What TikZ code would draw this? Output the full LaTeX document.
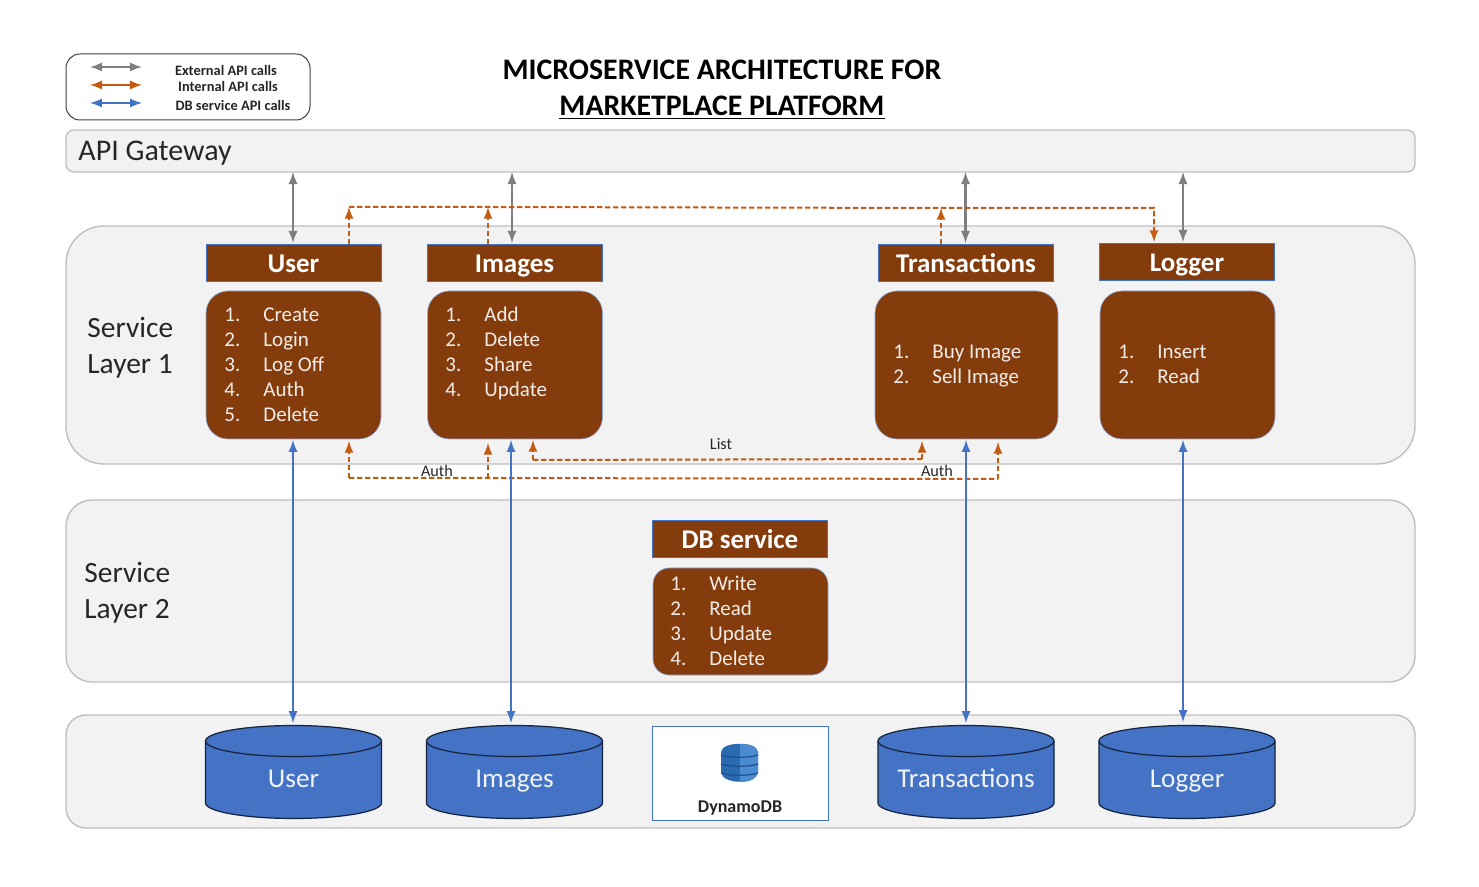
\documentclass[tikz,border=0pt]{standalone}
\usepackage{fontspec}
\setmainfont{Carlito}
\usetikzlibrary{arrows}
\definecolor{brownbox}{HTML}{843C0C}
\definecolor{layerfill}{HTML}{F2F2F2}
\definecolor{layerline}{HTML}{BFBFBF}
\definecolor{dbblue}{HTML}{4472C4}
\definecolor{intorange}{HTML}{C55A11}
\definecolor{extgray}{HTML}{7F7F7F}
\definecolor{dynleft}{HTML}{2A6BB0}
\definecolor{dynright}{HTML}{4A8CCF}
\definecolor{dyngap}{HTML}{1E4E8C}
\newcommand{\itm}[2]{\makebox[19.5pt][l]{#1}#2}

\begin{document}
\begin{tikzpicture}[x=.5pt,y=-.5pt]
\tikzstyle{layer} = [draw=layerline,fill=layerfill,line width=.7pt,inner sep=0pt,outer sep=0pt]
\tikzstyle{header} = [draw=dbblue,line width=.4pt,fill=brownbox,text=white,font=\fontsize{13.5}{15}\selectfont\bfseries,minimum width=87.5pt,minimum height=18.5pt,text height=10.5pt,text depth=.6pt,inner sep=0pt,outer sep=0pt]
\tikzstyle{svcbox} = [fill=brownbox,draw=dbblue!60,line width=.3pt,rounded corners=11pt,inner sep=0pt,outer sep=0pt]
\tikzstyle{svclist} = [text=white!90!brownbox,font=\fontsize{10.5}{12.5}\selectfont,align=left,anchor=west,inner sep=0pt]
\tikzstyle{store} = [fill=dbblue,draw=black!70!dbblue,line width=.6pt]
\tikzstyle{storetext} = [text=white!92!dbblue,font=\fontsize{13.6}{15}\selectfont,text height=8.5pt,text depth=2.6pt,inner sep=0pt]
\tikzstyle{ext} = [extgray,line width=1.1pt,<->,>=latex]
\tikzstyle{legint} = [intorange,line width=1.1pt,<->,>=latex]
\tikzstyle{int} = [intorange,line width=1pt,dash pattern=on 2.7pt off 1.3pt,->,>=latex]
\tikzstyle{intline} = [intorange,line width=1pt,dash pattern=on 2.7pt off 1.3pt]
\tikzstyle{dbcall} = [dbblue,line width=1.05pt,<->,>=latex]
\tikzstyle{legtext} = [font=\fontsize{7.2}{8}\selectfont\bfseries,text=black!85,inner sep=0pt]
\tikzstyle{small} = [font=\fontsize{8.1}{9}\selectfont,text=black!85,inner sep=0pt]
\tikzstyle{side} = [font=\fontsize{14.7}{18}\selectfont,text=black!85,align=left,anchor=west,inner sep=0pt]
\tikzstyle{titletext} = [font=\fontsize{14.9}{18}\selectfont\bfseries,inner sep=0pt]

\useasboundingbox (0,0) rectangle (1479,887);

% legend and title
\node[draw=black!75,line width=.5pt,rounded corners=7pt,minimum width=122pt,minimum height=33pt,inner sep=0pt] (legend) at (188,87) {};
\coordinate (le1) at (90,67);  \coordinate (le2) at (142,67);
\coordinate (li1) at (90,85);  \coordinate (li2) at (142,85);
\coordinate (ld1) at (90,103); \coordinate (ld2) at (142,103);
\draw[ext] (le1) -- (le2);
\draw[legint] (li1) -- (li2);
\draw[dbcall] (ld1) -- (ld2);
\node[legtext] (ltxt1) at (226,70.5) {External API calls};
\node[legtext] (ltxt2) at (228,87) {Internal API calls};
\node[legtext] (ltxt3) at (233,105.5) {DB service API calls};
\node[titletext] (title1) at (722,70) {MICROSERVICE ARCHITECTURE FOR};
\node[titletext] (title2) at (722,108) {\underline{MARKETPLACE PLATFORM}};

% layers
\draw[layer,rounded corners=4pt] (66,130) rectangle (1415,172);
\node[font=\fontsize{15}{18}\selectfont,text=black!85,anchor=west,inner sep=0pt] (gateway) at (78,153) {API Gateway};
\draw[layer,rounded corners=19pt] (66,226) rectangle (1415,464);
\draw[layer,rounded corners=13pt] (66,500) rectangle (1415,682);
\draw[layer,rounded corners=10pt] (66,715) rectangle (1415,828);
\node[side] (layer1) at (87,348) {Service\\Layer 1};
\node[side] (layer2) at (84,593) {Service\\Layer 2};

% services
\node[header] (hUser) at (293.5,262.5) {User};
\node[header] (hImages) at (514.5,262.5) {Images};
\node[header] (hTrans) at (966,262.5) {Transactions};
\node[header] (hLogger) at (1187,261.5) {Logger};
\node[header] (hDb) at (740,539) {DB service};

\node[svcbox,minimum width=87.5pt,minimum height=74pt] (bUser) at (293.5,365) {};
\node[svcbox,minimum width=87.5pt,minimum height=74pt] (bImages) at (515,365) {};
\node[svcbox,minimum width=91.5pt,minimum height=74pt] (bTrans) at (966.5,365) {};
\node[svcbox,minimum width=87.5pt,minimum height=74pt] (bLogger) at (1187.5,365) {};
\node[svcbox,minimum width=87.5pt,minimum height=53.5pt,rounded corners=8pt] (bDb) at (740.5,621.5) {};

\node[svclist] (lUser) at (224,365) {\itm{1.}{Create}\\\itm{2.}{Login}\\\itm{3.}{Log Off}\\\itm{4.}{Auth}\\\itm{5.}{Delete}};
\node[svclist] (lImages) at (445,353) {\itm{1.}{Add}\\\itm{2.}{Delete}\\\itm{3.}{Share}\\\itm{4.}{Update}};
\node[svclist] (lTrans) at (893,366) {\itm{1.}{Buy Image}\\\itm{2.}{Sell Image}};
\node[svclist] (lLogger) at (1118,364.5) {\itm{1.}{Insert}\\\itm{2.}{Read}};
\node[svclist] (lDb) at (670,621) {\itm{1.}{Write}\\\itm{2.}{Read}\\\itm{3.}{Update}\\\itm{4.}{Delete}};

% stores
\foreach \cx in {293.5,514.5,966,1187} {
  \draw[store] (\cx-88,741) -- (\cx-88,803) arc[start angle=180,end angle=360,x radius=44pt,y radius=7.75pt]
    -- (\cx+88,741) arc[start angle=0,end angle=180,x radius=44pt,y radius=7.75pt] -- cycle;
  \draw[store,fill=none] (\cx-88,741) arc[start angle=180,end angle=360,x radius=44pt,y radius=7.75pt];
}
\node[storetext] (tUser) at (293.5,782) {User};
\node[storetext] (tImages) at (514.5,782) {Images};
\node[storetext] (tTrans) at (966,782) {Transactions};
\node[storetext] (tLogger) at (1187,782) {Logger};

\node[draw=dbblue,line width=.5pt,fill=white,minimum width=88pt,minimum height=47pt,inner sep=0pt] (dynamo) at (740.5,773) {};
\fill[dynleft] (721,752) .. controls (722,741) and (757,741) .. (758,752) -- (758,772) .. controls (757,785) and (722,785) .. (721,772) -- cycle;
\fill[dynright] (740,744) .. controls (750,744) and (757,746) .. (758,752) -- (758,772) .. controls (757,779) and (750,782) .. (740,782) -- cycle;
\foreach \yy in {755,764,773} {
  \draw[dyngap,line width=.6pt] (721,\yy) .. controls (730,\yy+3) and (750,\yy+3) .. (758,\yy);
}
\node[font=\fontsize{9}{10}\selectfont\bfseries,text=black!85,inner sep=0pt] (dynlabel) at (740,808) {DynamoDB};

% external calls
\coordinate (g1) at (293,172);  \coordinate (s1) at (293,243);
\coordinate (g2) at (512,172);  \coordinate (s2) at (512,243);
\coordinate (g3) at (965.5,172);  \coordinate (s3) at (965.5,243);
\coordinate (g4) at (1183,172); \coordinate (s4) at (1183,242);
\draw[ext] (g1) -- (s1);
\draw[ext] (g2) -- (s2);
\draw[ext] (g3) -- (s3);
\draw[ext] (g4) -- (s4);

% internal calls, top
\coordinate (t1) at (349,207);
\coordinate (t2) at (488,207);
\coordinate (t3) at (941,208);
\coordinate (t4) at (1154,208);
\draw[int] (349,244) -- (t1);
\draw[int] (488,244) -- (t2);
\draw[int] (941,244) -- (t3);
\draw[int] (t1) -- (t2) -- (t3) -- (t4) -- (1154,242);

% internal calls, bottom
\coordinate (a1) at (349,478);
\coordinate (a2) at (488,478);
\coordinate (a3) at (998,479);
\draw[int] (a1) -- (349,441);
\draw[int] (a2) -- (488,443);
\draw[intline] (a1) -- (a2) -- (a3);
\draw[int] (a3) -- (998,442);
\coordinate (b1) at (533,460);
\coordinate (b2) at (922,459);
\draw[int] (b1) -- (533,440);
\draw[intline] (b1) -- (b2);
\draw[int] (b2) -- (922,441);
\node[small] (list) at (721,444) {List};
\node[small] (auth1) at (437,471) {Auth};
\node[small] (auth2) at (937,471) {Auth};

% db calls
\coordinate (d1) at (293,440);  \coordinate (e1) at (293,723);
\coordinate (d2) at (511,440);  \coordinate (e2) at (511,723);
\coordinate (d3) at (966,440);  \coordinate (e3) at (966,723);
\coordinate (d4) at (1183,440); \coordinate (e4) at (1183,722);
\draw[dbcall] (d1) -- (e1);
\draw[dbcall] (d2) -- (e2);
\draw[dbcall] (d3) -- (e3);
\draw[dbcall] (d4) -- (e4);
\end{tikzpicture}
\end{document}
